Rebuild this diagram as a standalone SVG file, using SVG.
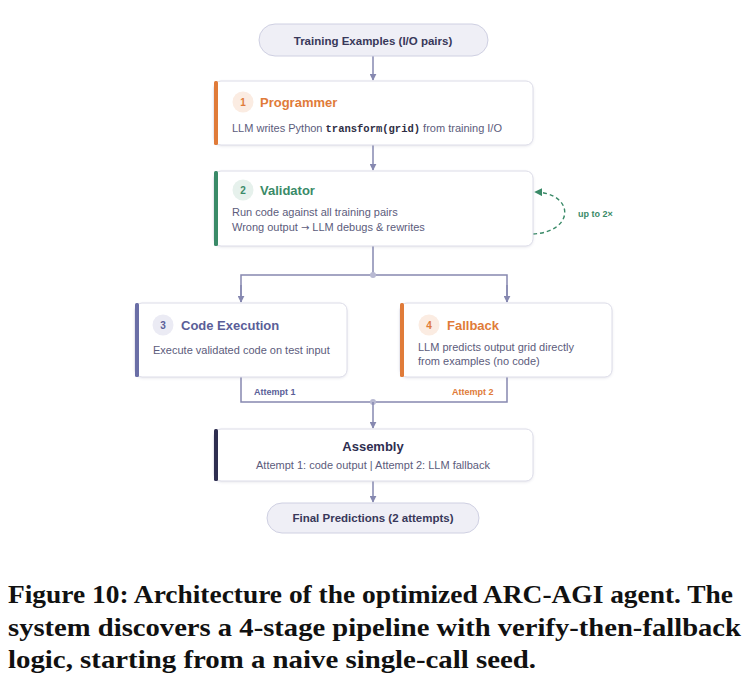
<svg xmlns="http://www.w3.org/2000/svg" width="752" height="685" viewBox="0 0 752 685">
<defs>
<marker id="arr" viewBox="0 0 10 10" refX="9" refY="5" markerWidth="7" markerHeight="7" orient="auto" markerUnits="userSpaceOnUse">
<path d="M0,0 L10,5 L0,10 z" fill="#8688b0"/>
</marker>
<marker id="arrG" viewBox="0 0 10 10" refX="9" refY="5" markerWidth="8" markerHeight="8" orient="auto" markerUnits="userSpaceOnUse">
<path d="M0,0 L10,5 L0,10 z" fill="#3a8a68"/>
</marker>
<filter id="sh" x="-5%" y="-10%" width="110%" height="130%">
<feDropShadow dx="0" dy="1" stdDeviation="1.2" flood-color="#8080a0" flood-opacity="0.18"/>
</filter>
</defs>
<style>
.box{fill:#ffffff;stroke:#dcdce8;stroke-width:1;filter:url(#sh)}
.pill{fill:#efeff6;stroke:#cfd0e2;stroke-width:1}
.pt{font-family:"Liberation Sans",Arial,sans-serif;font-size:11.5px;font-weight:700;fill:#38385a;text-anchor:middle}
.ttl{font-family:"Liberation Sans",Arial,sans-serif;font-size:13px;font-weight:700}
.num{font-family:"Liberation Sans",Arial,sans-serif;font-size:10px;font-weight:700;text-anchor:middle}
.body{font-family:"Liberation Sans",Arial,sans-serif;font-size:11px;fill:#5c5c7c}
.mono{font-family:"Liberation Mono",monospace;font-weight:700;fill:#2e2e44}
.conn{fill:none;stroke:#8688b0;stroke-width:1.5}
.lbl{font-family:"Liberation Sans",Arial,sans-serif;font-size:9px;font-weight:700}
.cap{font-size:26px;font-weight:700;fill:#111}
</style>
<rect width="752" height="685" fill="#ffffff"/>

<g id="connectors">
<line class="conn" x1="373" y1="56" x2="373" y2="80" marker-end="url(#arr)"/>
<line class="conn" x1="373" y1="145" x2="373" y2="170" marker-end="url(#arr)"/>
<line class="conn" x1="373" y1="246" x2="373" y2="275"/>
<path class="conn" d="M241,302 V275 H507 V302"/>
<line class="conn" x1="241" y1="285" x2="241" y2="302" marker-end="url(#arr)"/>
<line class="conn" x1="507" y1="285" x2="507" y2="302" marker-end="url(#arr)"/>
<circle cx="373" cy="275" r="3" fill="#b8b9d2"/>
<path class="conn" d="M241,377 V402 H507 V377"/>
<circle cx="373" cy="402" r="3" fill="#b8b9d2"/>
<line class="conn" x1="373" y1="402" x2="373" y2="428" marker-end="url(#arr)"/>
<line class="conn" x1="373" y1="481" x2="373" y2="502" marker-end="url(#arr)"/>
<path d="M533,234 C575,232 575,193 535,192" fill="none" stroke="#3a8a68" stroke-width="1.4" stroke-dasharray="4,3" marker-end="url(#arrG)"/>
<text class="lbl" x="578" y="217" fill="#3a8a68">up to 2×</text>
<text class="lbl" x="254" y="395" fill="#5a5e98">Attempt 1</text>
<text class="lbl" x="452" y="395" fill="#e07b39">Attempt 2</text>
</g>

<g id="input">
<rect class="pill" x="259" y="24" width="229" height="32" rx="16"/>
<text class="pt" x="373" y="44.5">Training Examples (I/O pairs)</text>
</g>

<g id="programmer">
<rect class="box" x="214" y="81" width="319" height="64" rx="7"/>
<rect x="214" y="81" width="4" height="64" rx="1.5" fill="#e07b39"/>
<circle cx="243" cy="102" r="10.5" fill="#fbece2"/>
<text class="num" x="243" y="106" fill="#e07b39">1</text>
<text class="ttl" x="260" y="107" fill="#e07b39">Programmer</text>
<text class="body" x="232" y="132">LLM writes Python <tspan class="mono" font-size="10.5px">transform(grid)</tspan> from training I/O</text>
</g>

<g id="validator">
<rect class="box" x="214" y="171" width="319" height="75" rx="7"/>
<rect x="214" y="171" width="4" height="75" rx="1.5" fill="#3a8a68"/>
<circle cx="243" cy="190" r="10.5" fill="#e6f1ec"/>
<text class="num" x="243" y="194" fill="#3a8a68">2</text>
<text class="ttl" x="260" y="195" fill="#3a8a68">Validator</text>
<text class="body" x="232" y="216">Run code against all training pairs</text>
<text class="body" x="232" y="231">Wrong output <tspan font-family="'DejaVu Sans',sans-serif" font-size="10px">→</tspan> LLM debugs &amp; rewrites</text>
</g>

<g id="code-execution">
<rect class="box" x="135" y="303" width="212" height="74" rx="7"/>
<rect x="135" y="303" width="4" height="74" rx="1.5" fill="#6a6ea6"/>
<circle cx="163" cy="325" r="10.5" fill="#ebebf4"/>
<text class="num" x="163" y="329" fill="#5a5e98">3</text>
<text class="ttl" x="181" y="330" fill="#5a5e98">Code Execution</text>
<text class="body" x="153" y="354">Execute validated code on test input</text>
</g>

<g id="fallback">
<rect class="box" x="400" y="303" width="212" height="74" rx="7"/>
<rect x="400" y="303" width="4" height="74" rx="1.5" fill="#e07b39"/>
<circle cx="429" cy="325" r="10.5" fill="#fbece2"/>
<text class="num" x="429" y="329" fill="#e07b39">4</text>
<text class="ttl" x="447" y="330" fill="#e07b39">Fallback</text>
<text class="body" x="418" y="351">LLM predicts output grid directly</text>
<text class="body" x="418" y="365">from examples (no code)</text>
</g>

<g id="assembly">
<rect class="box" x="214" y="429" width="319" height="52" rx="7"/>
<rect x="214" y="429" width="4" height="52" rx="1.5" fill="#2e2e50"/>
<text class="ttl" x="373" y="451" fill="#2e2e50" text-anchor="middle">Assembly</text>
<text class="body" x="373" y="469" text-anchor="middle">Attempt 1: code output | Attempt 2: LLM fallback</text>
</g>

<g id="final">
<rect class="pill" x="267" y="503" width="212" height="30" rx="15"/>
<text class="pt" x="373" y="522">Final Predictions (2 attempts)</text>
</g>

<g id="caption" font-family="'Liberation Serif', 'Times New Roman', serif">
<text class="cap" x="8" y="603" textLength="725" lengthAdjust="spacingAndGlyphs">Figure 10: Architecture of the optimized ARC-AGI agent. The</text>
<text class="cap" x="8" y="636" textLength="733" lengthAdjust="spacingAndGlyphs">system discovers a 4-stage pipeline with verify-then-fallback</text>
<text class="cap" x="8" y="668" textLength="528" lengthAdjust="spacingAndGlyphs">logic, starting from a naive single-call seed.</text>
</g>
</svg>
